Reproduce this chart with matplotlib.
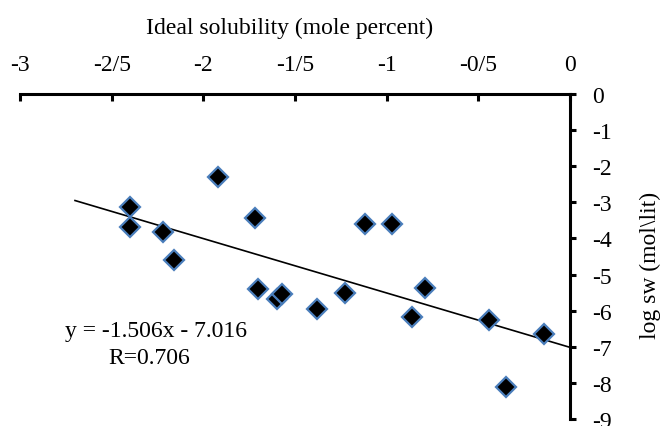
import matplotlib
matplotlib.use("Agg")
import matplotlib.pyplot as plt

plt.rcParams['font.family'] = ['Liberation Serif', 'DejaVu Serif']

# Data
ideal_solubility = [-2.40, -2.40, -2.22, -2.16, -1.92, -1.72, -1.70, -1.60, -1.57,
                    -1.38, -1.23, -1.12, -0.97, -0.86, -0.79, -0.44, -0.35, -0.14]
log_sw = [-3.12, -3.69, -3.81, -4.61, -2.29, -3.43, -5.41, -5.69, -5.53,
          -5.95, -5.50, -3.60, -3.60, -6.18, -5.38, -6.27, -8.11, -6.64]

slope = -1.506
intercept = -7.016
fit_x = [-2.70, 0.0]

x_ticks = [-3, -2.5, -2, -1.5, -1, -0.5, 0]
x_tick_labels = ['-3', '-2/5', '-2', '-1/5', '-1', '-0/5', '0']
y_ticks = [0, -1, -2, -3, -4, -5, -6, -7, -8, -9]
y_tick_labels = ['0', '-1', '-2', '-3', '-4', '-5', '-6', '-7', '-8', '-9']

fig = plt.figure(figsize=(6.61, 4.27), dpi=100)
ax = fig.add_axes([20/661, 1-420/427, 550/661, 325/427])

fit_y = [slope * v + intercept for v in fit_x]
ax.plot(fit_x, fit_y, color='black', lw=1.2, zorder=2)
ax.plot(ideal_solubility, log_sw, linestyle='none', marker='D', markersize=9.8,
        markerfacecolor='black', markeredgecolor='#4a7ebb', markeredgewidth=1.6,
        zorder=3, clip_on=False)

ax.set_xlim(-3, 0)
ax.set_ylim(-9, 0)

for s in ['left', 'bottom']:
    ax.spines[s].set_visible(False)
for s in ['top', 'right']:
    ax.spines[s].set_linewidth(2.2)
    ax.spines[s].set_color('black')

ax.xaxis.tick_top()
ax.yaxis.tick_right()
ax.set_xticks(x_ticks)
ax.set_xticklabels(x_tick_labels)
ax.set_yticks(y_ticks)
ax.set_yticklabels(y_tick_labels)
ax.tick_params(axis='x', direction='in', length=5, width=2.2, pad=14, labelsize=17)
ax.tick_params(axis='y', direction='out', length=4, width=2.2, pad=12, labelsize=17)

ax.text(0.491, 1.206, 'Ideal solubility (mole percent)', transform=ax.transAxes,
        ha='center', va='center', fontsize=17)
ax.text(1.147, 0.477, 'log sw (mol\\lit)', transform=ax.transAxes,
        ha='center', va='center', rotation=90, fontsize=17)

ax.text(-2.259, -6.55, 'y = -1.506x - 7.016', ha='center', va='center', fontsize=17)
ax.text(-2.297, -7.30, 'R=0.706', ha='center', va='center', fontsize=17)

fig.savefig('out.png', dpi=100)
